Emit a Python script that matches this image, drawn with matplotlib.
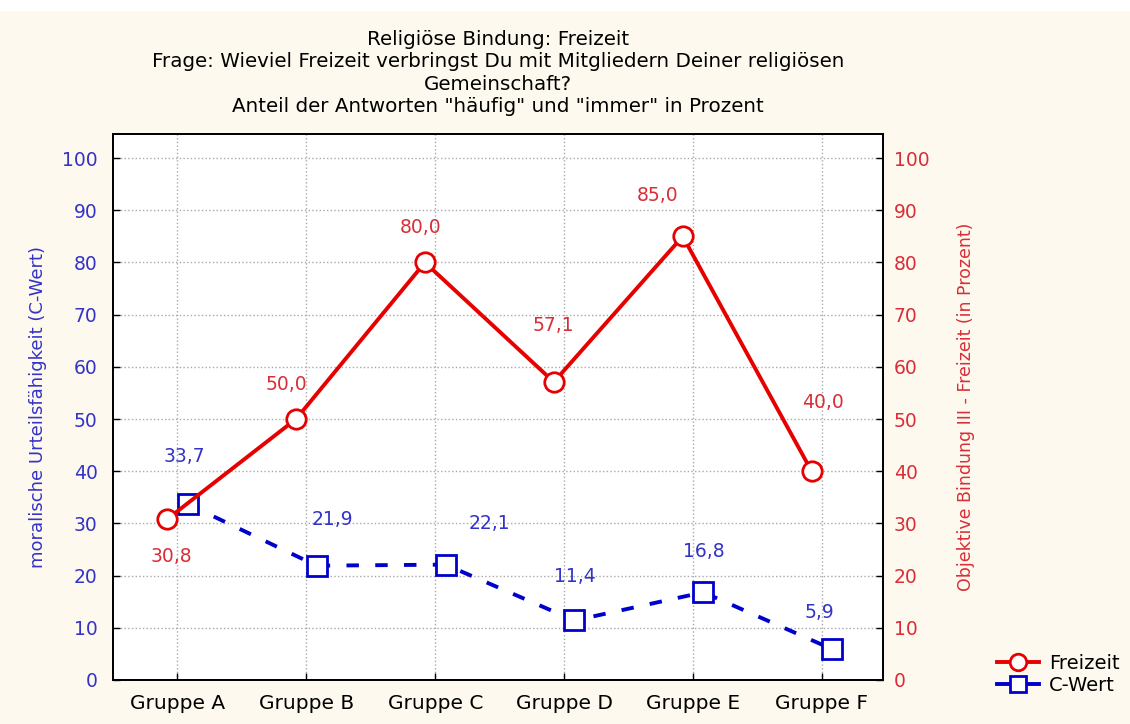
import numpy as np
import matplotlib
matplotlib.use("Agg")
import matplotlib.pyplot as plt
from matplotlib.patches import Rectangle

# data
gruppen=["Gruppe A","Gruppe B","Gruppe C","Gruppe D","Gruppe E","Gruppe F"]
freizeit=[30.8,50.0,80.0,57.1,85.0,40.0]
cwert=[33.7,21.9,22.1,11.4,16.8,5.9]

# label offsets (pixels) relative to the markers
off_f=[(4,-37),(-10,35),(-4,35),(0,56),(-25,41),(11,69)]
off_c=[(-3,48),(16,46),(44,41),(0,44),(0,41),(-13,37)]

# style
plt.rcParams['font.family']=['DejaVu Sans']
FS=13.5
red=(0.90,0.0,0.0)
blue=(0.0,0.0,0.80)
redt=(0.85,0.18,0.22)
bluet=(0.20,0.20,0.78)
cream='#fdf9ee'

fig=plt.figure(figsize=(11.3,7.24),dpi=100,facecolor=cream)
fig.patches.append(Rectangle((0,0.986),1,0.014,transform=fig.transFigure,color='white',zorder=0))

ax0=fig.add_axes([0.1,0.0608,0.681,0.754])
ax1=ax0.twinx()

x=np.arange(len(gruppen))

l1,=ax1.plot(x-0.08,freizeit,color=red,lw=2.8,marker='o',ms=14,mfc='white',mec=red,mew=2,label='Freizeit',zorder=3)
l0,=ax0.plot(x+0.08,cwert,color=blue,lw=2.8,ls=(0,(3.2,4.2)),marker='s',ms=14,mfc='white',mec=blue,mew=2,label='C-Wert',zorder=3)

for i0 in range(len(x)):
    ax1.annotate(("%.1f"%freizeit[i0]).replace('.',','),(x[i0]-0.08,freizeit[i0]),xytext=off_f[i0],
                 textcoords='offset pixels',ha='center',va='center',color=redt,fontsize=FS)
    ax0.annotate(("%.1f"%cwert[i0]).replace('.',','),(x[i0]+0.08,cwert[i0]),xytext=off_c[i0],
                 textcoords='offset pixels',ha='center',va='center',color=bluet,fontsize=FS)

for a in (ax0,ax1):
    a.set_ylim(0,104.6)
    a.set_yticks(range(0,101,10))
    a.tick_params(direction='in',length=5,width=1,labelsize=13.5)
ax0.set_xlim(-0.5,5.47)
ax0.set_xticks(x)
ax0.set_xticklabels(gruppen,fontsize=14.5)
ax0.tick_params(axis='x',pad=10,colors='black')
ax0.tick_params(axis='y',labelcolor=bluet,pad=11)
ax1.tick_params(axis='y',labelcolor=redt,pad=8)

ax0.grid(True,ls=':',color='#a8a8a8',lw=1)
for s in ax0.spines.values(): s.set_linewidth(1.3)
for s in ax1.spines.values(): s.set_linewidth(1.3)

ax0.set_ylabel("moralische Urteilsfähigkeit (C-Wert)",color=bluet,fontsize=13,labelpad=11)
ax1.set_ylabel("Objektive Bindung III - Freizeit (in Prozent)",color=redt,fontsize=12.5,labelpad=20)

ax0.set_title('Religiöse Bindung: Freizeit\nFrage: Wieviel Freizeit verbringst Du mit Mitgliedern Deiner religiösen\nGemeinschaft?\nAnteil der Antworten "häufig" und "immer" in Prozent',
              fontsize=14.3,linespacing=1.22,pad=16)

leg=fig.legend([l1,l0],['Freizeit','C-Wert'],loc='lower left',bbox_to_anchor=(0.875,0.03),
               frameon=False,fontsize=14,handlelength=2.2,handletextpad=0.5,labelspacing=0.15,
               borderaxespad=0,markerscale=0.85)
for h in leg.legend_handles:
    h.set_linestyle('-')

fig.savefig('out.png',dpi=100,facecolor=cream)
